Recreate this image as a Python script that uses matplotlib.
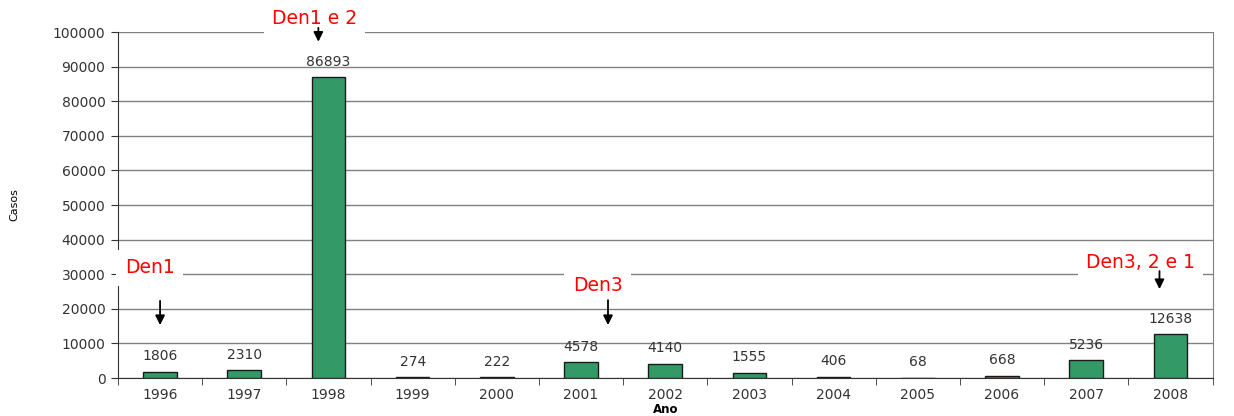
import numpy as np
import matplotlib.pyplot as plt

# Casos por ano
anos = ['1996', '1997', '1998', '1999', '2000', '2001', '2002',
        '2003', '2004', '2005', '2006', '2007', '2008']
casos = [1806, 2310, 86893, 274, 222, 4578, 4140, 1555, 406, 68, 668, 5236, 12638]

# Introdução dos sorotipos: texto, posição do texto, ponta e cauda da seta
sorotipos = ['Den1', 'Den1 e 2', 'Den3', 'Den3, 2 e 1']
texto_xy = [(-0.42, 31800), (1.33, 104000), (4.90, 26600), (11.0, 33500)]
seta_x = [0.0, 1.88, 5.32, 11.87]
seta_de = [22300, 101200, 22500, 30900]
seta_ate = [15300, 97200, 15300, 25700]

plt.rcParams['font.family'] = ['DejaVu Sans']

fig = plt.figure(figsize=(12.34, 4.16), dpi=100)
ax = fig.add_axes([0.0956, 0.0913, 0.887, 0.8317])

x = np.arange(len(anos))
ax.bar(x, casos, width=0.4, color='#339966', edgecolor='#1a1a1a',
       linewidth=1.0, zorder=3)

for xi, v in zip(x, casos):
    ax.annotate(str(v), (xi, v), xytext=(0, 6), textcoords='offset points',
                ha='center', va='bottom', fontsize=10, color='#333333',
                zorder=4)

ax.set_xlim(-0.5, len(anos) - 0.5)
ax.set_ylim(0, 100000)
ax.set_yticks(np.arange(0, 100001, 10000))
ax.set_yticklabels([str(v) for v in range(0, 100001, 10000)],
                   fontsize=10, color='#333333')
ax.set_xticks(x)
ax.set_xticklabels(anos, fontsize=10, color='#333333')
ax.set_xticks(np.arange(-0.5, len(anos), 1.0), minor=True)
ax.tick_params(axis='x', which='major', length=0, pad=7)
ax.tick_params(axis='x', which='minor', length=5, color='#333333')
ax.tick_params(axis='y', length=5, color='#333333', pad=4)

ax.grid(axis='y', color='#808080', linewidth=1.0, zorder=0)
ax.set_axisbelow(True)
ax.spines['top'].set_visible(False)
ax.spines['right'].set_color('#808080')
ax.spines['left'].set_color('#333333')
ax.spines['bottom'].set_color('#333333')

ax.set_xlabel('Ano', fontsize=8.5, fontweight='bold', labelpad=1)
ax.set_ylabel('Casos', fontsize=8, labelpad=24)

for nome, (tx, ty), sx, s0, s1 in zip(sorotipos, texto_xy, seta_x, seta_de, seta_ate):
    ax.text(tx, ty, nome, fontsize=13.5, color='red', ha='left', va='center',
            zorder=6, clip_on=False,
            bbox=dict(facecolor='white', edgecolor='none', pad=6))
    ax.annotate('', xy=(sx, s1), xytext=(sx, s0), zorder=6,
                annotation_clip=False,
                arrowprops=dict(arrowstyle='-|>', color='black', lw=1.3,
                                mutation_scale=14, shrinkA=0, shrinkB=0))

fig.savefig('out.png', dpi=100)
